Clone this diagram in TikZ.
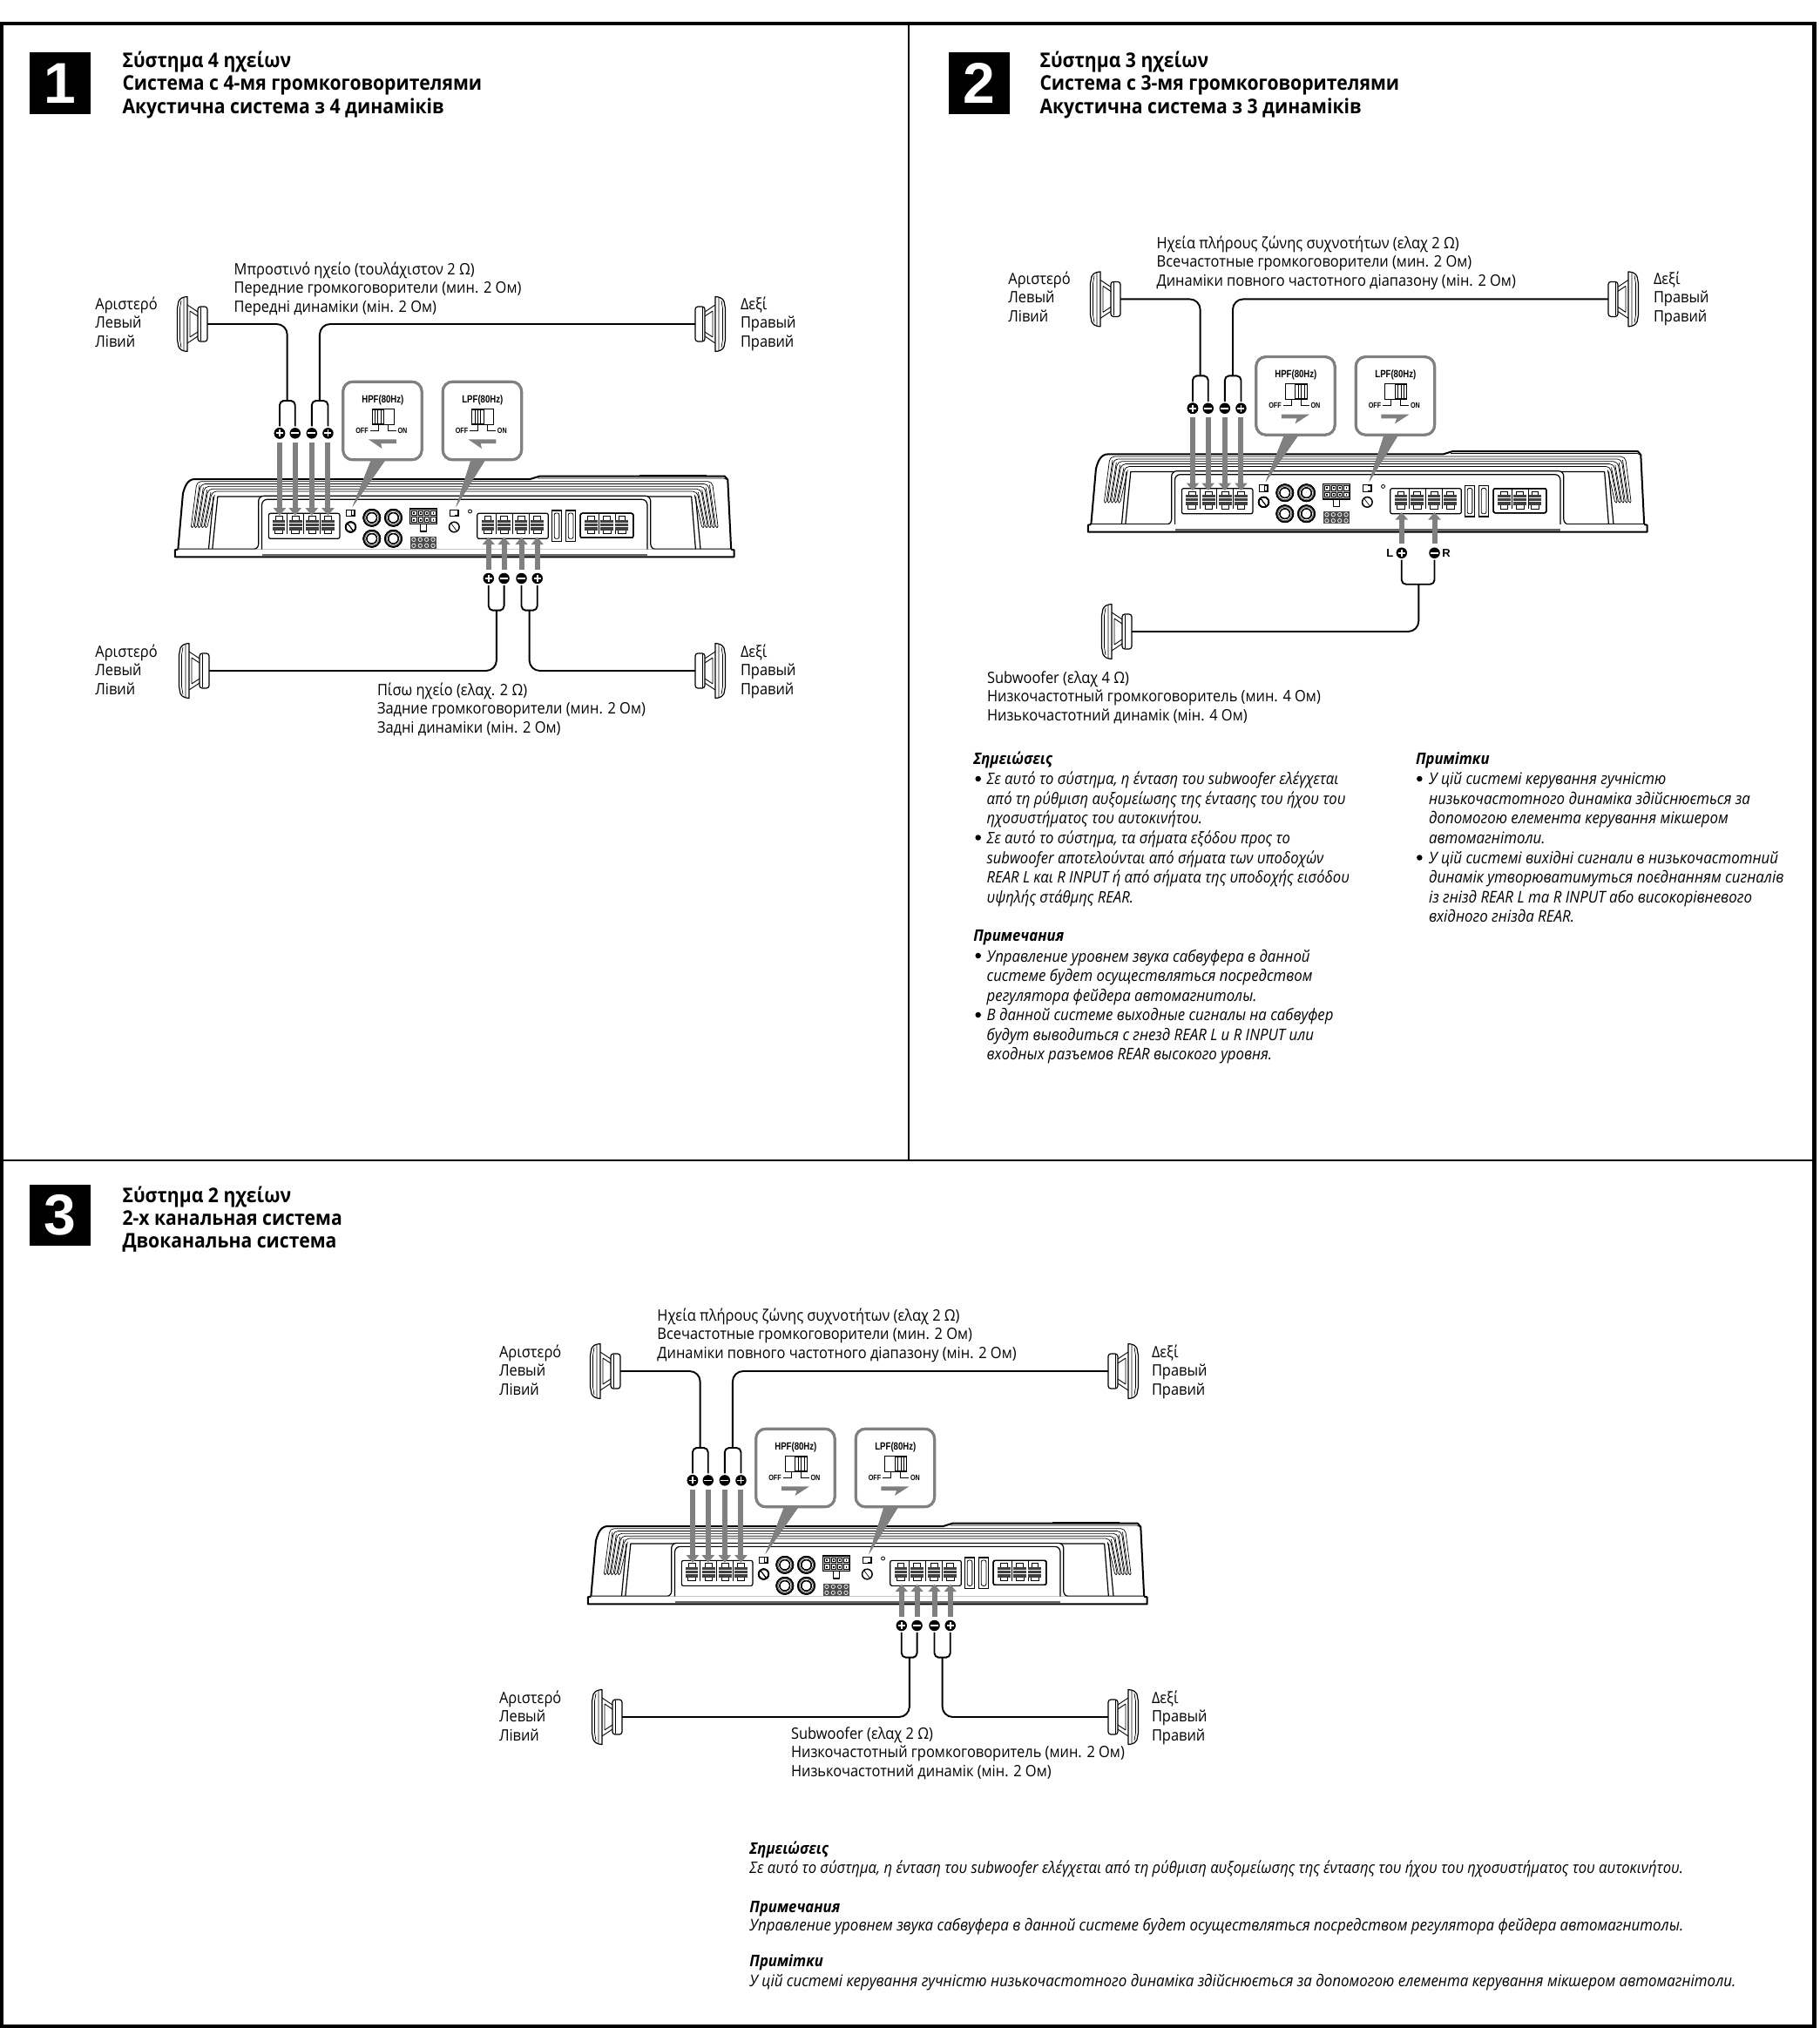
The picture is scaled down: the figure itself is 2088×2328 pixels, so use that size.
\documentclass[tikz,border=0pt]{standalone}
\usepackage{fontspec}
\usetikzlibrary{arrows.meta}
\setmainfont{Open Sans}[FakeStretch=0.912]
\newfontfamily\armf{Liberation Sans}
\newfontfamily\armn{Liberation Sans}[FakeStretch=0.8]
\definecolor{cgray}{HTML}{808080}
\newcount\nodeno
\tikzset{
  wire/.style={draw=black,line width=1.9pt,line join=round},
  amp/.style={draw=black,line width=1.2pt,line join=round},
  ampthick/.style={draw=black,line width=2pt,line join=round},
  fin/.style={draw=black,line width=.7pt},
  tarrow/.style={draw=cgray,line width=6pt,-{Triangle[width=14pt,length=8.5pt,fill=cgray]},shorten <=4pt},
  pol/.style={circle,fill=black,inner sep=0pt,minimum size=12.5pt},
  polp/.style={pol,path picture={\draw[white,line width=1.7pt]
     ([xshift=-4pt]path picture bounding box.center)--([xshift=4pt]path picture bounding box.center)
     ([yshift=-4pt]path picture bounding box.center)--([yshift=4pt]path picture bounding box.center);}},
  polm/.style={pol,path picture={\draw[white,line width=1.7pt]
     ([xshift=-4.5pt]path picture bounding box.center)--([xshift=4.5pt]path picture bounding box.center);}},
  lbl/.style={anchor=base west,inner sep=0pt,outer sep=0pt,font=\fontsize{18}{22}\selectfont},
  head/.style={lbl,font=\fontsize{23.2}{26}\selectfont\bfseries},
  noteg/.style={lbl,font=\fontsize{18.25}{22}\selectfont\itshape},
  noter/.style={lbl,font=\fontsize{18.4}{22}\selectfont\itshape},
  noteu/.style={lbl,font=\fontsize{18.55}{22}\selectfont\itshape},
  notehead/.style={lbl,font=\fontsize{18.3}{22}\selectfont\itshape\bfseries},
  bul/.style={circle,fill=black,inner sep=0pt,minimum size=6.5pt},
  numbox/.style={fill=black,text=white,inner sep=0pt,minimum width=70pt,minimum height=70.5pt,font=\armf\bfseries\fontsize{66}{66}\selectfont},
  filt/.style={inner sep=0pt,font=\armn\bfseries\fontsize{12}{14}\selectfont},
  sw/.style={inner sep=0pt,font=\armn\bfseries\fontsize{9}{10}\selectfont},
  lr/.style={inner sep=0pt,font=\armf\bfseries\fontsize{13}{15}\selectfont},
}
\newcommand\lineat[4]{\global\advance\nodeno by 1 \node[#3] (t\the\nodeno) at (#1,#2) {#4};}
\newcommand\threelines[6]{\lineat{#1}{#2}{lbl}{#3}\lineat{#1}{#2+21.5}{lbl}{#4}\lineat{#1}{#2+43}{lbl}{#5}}
\newcommand\bullets[2]{\global\advance\nodeno by 1 \node[bul] (t\the\nodeno) at (#1,#2) {};}
% speaker: name, x, y (wire end), direction
\newcommand\speaker[4]{%
  \coordinate (#1) at (#2,#3);
  \begin{scope}[shift={(#2,#3)},xscale=#4]
    \draw[fin,line width=.9pt] (-11,-14)--(-23,-22) (-11,14)--(-23,22) (-11,-9)--(-20,-15) (-11,9)--(-20,15) (-20,-15)--(-20,15);
    \draw[amp,fill=white,rounded corners=3pt] (-11,-20) rectangle (0,20);
    \draw[fin,line width=1pt] (-8,-19)--(-8,19);
    \draw[amp,fill=white] (-23,-31.5) .. controls (-28,-31) and (-31,-30) .. (-33,-26) -- (-34.5,-18) -- (-34.5,18) -- (-33,26) .. controls (-31,30) and (-28,31) .. (-23,31.5) -- cycle;
    \draw[fin] (-30,-27)--(-31.5,-18)--(-31.5,18)--(-30,27) (-27,-30)--(-27,30);
  \end{scope}}
% terminal icon
\newcommand\termi[1]{%
  \begin{scope}[shift={(#1,0)}]
    \draw[fin] (-9,518) rectangle (9,532);
    \draw[fin,fill=white] (-10,565) rectangle (10,578);
    \fill[black!75] (-17,530) rectangle (17,566);
    \draw[white,line width=.7pt] (-17,541)--(17,541) (-17,552)--(17,552);
  \end{scope}}
\newcommand\rca[2]{\draw[black,line width=1.4pt] (#1,#2) circle[radius=9.6pt]; \draw[black,line width=1pt] (#1,#2) circle[radius=5.8pt]; \draw[black!55,line width=.6pt] (#1,#2) circle[radius=8pt];}
\newcommand\knob[2]{\draw[black,line width=1.5pt] (#1,#2) circle[radius=5.8pt]; \draw[fin] (#1-8,#2-12)--(#1+6,#2+12);}
\newcommand\swbox[2]{\draw[amp,line width=1pt] (#1,#2) rectangle ++(24,23); \fill (#1+13,#2) rectangle ++(11,23); \fill[white] (#1+14.5,#2+4) rectangle ++(6,15);}
% callout: prefix, label, x offset, mode, tip X
\newcommand\callout[5]{%
  \begin{scope}[shift={(#3,0)}]
    \draw[draw=cgray,line width=3pt,fill=white,rounded corners=11pt] (470,55) rectangle (678,323);
    \fill[cgray] (545,322) -- (583,322) -- (#5,485) -- cycle;
    \node[filt] (#1-#2) at (575,118) {#2(80Hz)};
    \draw[fin,line width=1pt] (547,147) rectangle (605,202);
    \ifnum#4=0
      \draw[fin,line width=1pt] (547,150) rectangle (578,199);
      \foreach \k in {555,562,570} \draw[fin,line width=.8pt] (\k,150)--(\k,199);
      \fill[cgray] (611,253)--(537,253)--(573,285)--(570,267)--(611,267)--cycle;
    \else
      \draw[fin,line width=1pt] (574,150) rectangle (605,199);
      \foreach \k in {582,590,597} \draw[fin,line width=.8pt] (\k,150)--(\k,199);
      \fill[cgray] (537,253)--(611,253)--(573,285)--(578,267)--(537,267)--cycle;
    \fi
    \draw[black,line width=.9pt] (541,222)--(563,222)--(563,204) (588,204)--(588,222)--(611,222);
    \node[sw] (#1-#2-off) at (520,222) {OFF};
    \node[sw] (#1-#2-on) at (627,222) {ON};
  \end{scope}}
% amplifier: prefix, origin x, origin y, mode
\newcommand\ampbody[4]{%
\begin{scope}[shift={(#2,#3)},x=.43365pt,y=-.33333pt]
  % outline
  \draw[ampthick,fill=white] (33,632) -- (46,440) .. controls (52,410) and (60,390) .. (78,390) -- (965,390) -- (990,380) -- (1480,380) -- (1488,392) -- (1497,632) -- cycle;
  \draw[black,line width=1.8pt] (1255,379)--(1432,379);
  \draw[fin] (985,387)--(1478,387)--(1486,392);
  % fins
  \foreach \i in {0,...,4} {
    \draw[fin,rounded corners=5pt] ({68+9.2*\i},552) -- ({83+10*\i},{398+8.5*\i}) -- ({1447-10*\i},{398+8.5*\i}) -- ({1462-9.2*\i},552);
    \draw[fin] ({68+9.2*\i},552) -- ({70+9.2*\i},557) -- ({74+9.2*\i},552) -- ({90+10*\i},{410+8.5*\i});
    \draw[fin] ({1462-9.2*\i},552) -- ({1460-9.2*\i},557) -- ({1456-9.2*\i},552) -- ({1440-10*\i},{410+8.5*\i});
  }
  \draw[amp] (114,632)--(127,450) (124,632)--(138,450) (138,450)--(1392,450) (1403,632)--(1392,450) (1416,632)--(1403,450);
  % centre plate
  \draw[amp,fill=white,rounded corners=6pt] (33,632) -- (246,632) -- (246,448) -- (1284,448) -- (1284,632) -- (1497,632);
  \draw[amp,rounded corners=6pt] (255,655) -- (255,460) -- (1275,460) -- (1275,655);
  \draw[ampthick,fill=white] (33,632) -- (25,634) -- (25,658) -- (1505,658) -- (1505,634) -- (1497,632);
  \draw[line width=2.4pt,black!60] (255,651)--(1275,651);
  % first terminal block
  \draw[amp,rounded corners=2pt] (273,508) -- (273,595) -- (461,595) -- (461,508) -- cycle;
  \draw[fin] (322,510)--(322,578) (366,510)--(366,578) (409,510)--(409,578);
  \foreach \k in {300,344,388,430} \termi{\k}
  % switches, knobs, jacks
  \swbox{478}{495}
  \knob{490}{555}
  \rca{546}{523}\rca{603}{523}\rca{546}{595}\rca{603}{595}
  \draw[amp,fill=black!25] (646,492) rectangle (719,545);
  \foreach \a in {652,669,686,703} \foreach \b in {498,521} {\draw[black,line width=.9pt,fill=white] (\a,\b) rectangle ++(12,17); \fill[black] (\a+4,\b+6) rectangle ++(4,6);}
  \draw[amp,fill=white] (675,545) rectangle (690,570);
  \fill[black!70] (649,587) rectangle (717,630);
  \foreach \a in {657,674,691,708} \foreach \b in {598,619} {\draw[white,line width=.7pt] (\a,\b) circle[radius=2.2pt];}
  \swbox{752}{495}
  \knob{764}{555}
  \draw[black,line width=.8pt] (806,501) circle[radius=2pt];
  % second terminal block
  \draw[amp,rounded corners=2pt] (825,508) -- (825,595) -- (1013,595) -- (1013,508) -- cycle;
  \draw[fin] (875,510)--(875,578) (919,510)--(919,578) (962,510)--(962,578);
  \foreach \k in {853,896,941,984} \termi{\k}
  % slots
  \foreach \k in {1023,1060} {\draw[amp,fill=white] (\k,498) rectangle ++(25,107); \draw[amp,line width=.8pt,rounded corners=2pt] (\k+6,507) rectangle ++(13,88);}
  % third block
  \draw[amp,rounded corners=2pt] (1098,508) -- (1098,592) -- (1238,592) -- (1238,508) -- cycle;
  \draw[fin] (1147,510)--(1147,578) (1190,510)--(1190,578);
  \foreach \k in {1126,1168,1208} \termi{\k}
  % callouts
  \callout{#1}{HPF}{0}{#4}{495}
  \callout{#1}{LPF}{264}{#4}{505}
  % top connectors
  \node[polp] (#1-a) at (302,232) {};
  \node[polm] (#1-b) at (343,232) {};
  \node[polm] (#1-c) at (387,232) {};
  \node[polp] (#1-d) at (430,232) {};
  \coordinate (#1-ta) at (302,515); \coordinate (#1-tb) at (343,515); \coordinate (#1-tc) at (387,515); \coordinate (#1-td) at (430,515);
  \foreach \k in {a,b,c,d} \draw[tarrow] (#1-\k) -- (#1-t\k);
  \coordinate (#1-f1) at (322,120); \coordinate (#1-f2) at (408,120);
  \draw[wire,rounded corners=5pt,shorten <=1.5pt,shorten >=1.5pt] (#1-a.north) |- (#1-f1) -| (#1-b.north);
  \draw[wire,rounded corners=5pt,shorten <=1.5pt,shorten >=1.5pt] (#1-c.north) |- (#1-f2) -| (#1-d.north);
  % bottom terminals (named anchors)
  \coordinate (#1-be) at (855,590); \coordinate (#1-bf) at (896,590); \coordinate (#1-bg) at (942,590); \coordinate (#1-bh) at (984,590);
\end{scope}}
% four bottom polarity marks: prefix, origin x, y
\newcommand\bottomfour[3]{%
\begin{scope}[shift={(#2,#3)},x=.43365pt,y=-.33333pt]
  \node[polp] (#1-e) at (855,732) {};
  \node[polm] (#1-f) at (896,732) {};
  \node[polm] (#1-g) at (942,732) {};
  \node[polp] (#1-h) at (984,732) {};
  \foreach \k in {e,f,g,h} \draw[tarrow] (#1-\k) -- (#1-b\k);
  \coordinate (#1-f3) at (876,842); \coordinate (#1-f4) at (963,842);
  \draw[wire,rounded corners=5pt,shorten <=1.5pt,shorten >=1.5pt] (#1-e.south) |- (#1-f3) -| (#1-f.south);
  \draw[wire,rounded corners=5pt,shorten <=1.5pt,shorten >=1.5pt] (#1-g.south) |- (#1-f4) -| (#1-h.south);
\end{scope}}
\begin{document}
\begin{tikzpicture}[x=1pt,y=-1pt]
\useasboundingbox (0,0) rectangle (2088,2328);
\fill[white] (0,0) rectangle (2088,2328);
% frame
\draw[black,line width=4.5pt] (2,27) -- (2082.5,27) -- (2082.5,2326) -- (2,2326) -- cycle;
\draw[black,line width=2.6pt] (1043,27) -- (1043,1332);
\draw[black,line width=2.6pt] (2,1332) -- (2082.5,1332);
% number boxes
\node[numbox] (n1) at (68.5,95.3) {1};
\node[numbox] (n2) at (1124,95.3) {2};
\node[numbox] (n3) at (68.5,1395) {3};
% headings
\lineat{140.5}{78}{head}{Σύστημα 4 ηχείων}
\lineat{140.5}{104}{head}{Система с 4-мя громкоговорителями}
\lineat{140.5}{130.5}{head}{Акустична система з 4 динаміків}
\lineat{1193.5}{78}{head}{Σύστημα 3 ηχείων}
\lineat{1193.5}{104}{head}{Система с 3-мя громкоговорителями}
\lineat{1193.5}{130.5}{head}{Акустична система з 3 динаміків}
\lineat{140.5}{1380}{head}{Σύστημα 2 ηχείων}
\lineat{140.5}{1406}{head}{2-х канальная система}
\lineat{140.5}{1432.5}{head}{Двоканальна система}
% ---------- panel 1
\ampbody{p1}{190}{420}{0}
\bottomfour{p1}{190}{420}
\speaker{p1-sl}{238}{372}{1}
\speaker{p1-sr}{798}{372}{-1}
\speaker{p1-sbl}{240}{770}{1}
\speaker{p1-sbr}{798}{770}{-1}
\draw[wire,rounded corners=12pt] (p1-sl) -| (p1-f1);
\draw[wire,rounded corners=12pt] (p1-sr) -| (p1-f2);
\draw[wire,rounded corners=12pt] (p1-sbl) -| (p1-f3);
\draw[wire,rounded corners=12pt] (p1-sbr) -| (p1-f4);
\threelines{268.7}{315}{Μπροστινό ηχείο (τουλάχιστον 2 Ω)}{Передние громкоговорители (мин. 2 Ом)}{Передні динаміки (мін. 2 Ом)}{}
\threelines{109.4}{355}{Αριστερό}{Левый}{Лівий}{}
\threelines{850}{355}{Δεξί}{Правый}{Правий}{}
\threelines{109.4}{754}{Αριστερό}{Левый}{Лівий}{}
\threelines{850}{754}{Δεξί}{Правый}{Правий}{}
\threelines{433}{798}{Πίσω ηχείο (ελαχ. 2 Ω)}{Задние громкоговорители (мин. 2 Ом)}{Задні динаміки (мін. 2 Ом)}{}
% ---------- panel 2
\ampbody{p2}{1238}{391.4}{1}
\begin{scope}[shift={(1238,391.4)},x=.43365pt,y=-.33333pt]
  \node[polp] (p2-e) at (855,730) {};
  \node[polm] (p2-g) at (942,730) {};
  \draw[tarrow] (p2-e) -- (p2-be);
  \draw[tarrow] (p2-g) -- (p2-bg);
  \coordinate (p2-f3) at (900,838);
  \draw[wire,rounded corners=5pt,shorten <=1.5pt,shorten >=1.5pt] (p2-e.south) |- (p2-f3) -| (p2-g.south);
  \node[lr] (p2-L) at (824,730) {L};
  \node[lr] (p2-R) at (973,730) {R};
\end{scope}
\speaker{p2-sl}{1286}{343.4}{1}
\speaker{p2-sr}{1846}{343.4}{-1}
\speaker{p2-sb}{1299}{725}{1}
\draw[wire,rounded corners=12pt] (p2-sl) -| (p2-f1);
\draw[wire,rounded corners=12pt] (p2-sr) -| (p2-f2);
\draw[wire,rounded corners=12pt] (p2-sb) -| (p2-f3);
\threelines{1327.6}{285}{Ηχεία πλήρους ζώνης συχνοτήτων (ελαχ 2 Ω)}{Всечастотные громкоговорители (мин. 2 Ом)}{Динаміки повного частотного діапазону (мін. 2 Ом)}{}
\threelines{1157.4}{326.4}{Αριστερό}{Левый}{Лівий}{}
\threelines{1898}{326.4}{Δεξί}{Правый}{Правий}{}
\threelines{1133}{784}{Subwoofer (ελαχ 4 Ω)}{Низкочастотный громкоговоритель (мин. 4 Ом)}{Низькочастотний динамік (мін. 4 Ом)}{}
% notes panel 2
\lineat{1117.3}{877}{notehead}{Σημειώσεις}
\bullets{1122.7}{894}
\lineat{1132.7}{900.7}{noteg}{Σε αυτό το σύστημα, η ένταση του subwoofer ελέγχεται}
\lineat{1132.7}{923.3}{noteg}{από τη ρύθμιση αυξομείωσης της έντασης του ήχου του}
\lineat{1132.7}{945.7}{noteg}{ηχοσυστήματος του αυτοκινήτου.}
\bullets{1122.7}{961.5}
\lineat{1132.7}{968.3}{noteg}{Σε αυτό το σύστημα, τα σήματα εξόδου προς το}
\lineat{1132.7}{991}{noteg}{subwoofer αποτελούνται από σήματα των υποδοχών}
\lineat{1132.7}{1013.3}{noteg}{REAR L και R INPUT ή από σήματα της υποδοχής εισόδου}
\lineat{1132.7}{1036}{noteg}{υψηλής στάθμης REAR.}
\lineat{1117.3}{1080.7}{notehead}{Примечания}
\bullets{1122.7}{1097}
\lineat{1132.7}{1104}{noter}{Управление уровнем звука сабвуфера в данной}
\lineat{1132.7}{1126.7}{noter}{системе будет осуществляться посредством}
\lineat{1132.7}{1149.3}{noter}{регулятора фейдера автомагнитолы.}
\bullets{1122.7}{1165}
\lineat{1132.7}{1171.7}{noter}{В данной системе выходные сигналы на сабвуфер}
\lineat{1132.7}{1194.3}{noter}{будут выводиться с гнезд REAR L и R INPUT или}
\lineat{1132.7}{1216.7}{noter}{входных разъемов REAR высокого уровня.}
\lineat{1625}{877}{notehead}{Примітки}
\bullets{1629.3}{894}
\lineat{1640}{900.7}{noteu}{У цій системі керування гучністю}
\lineat{1640}{923.3}{noteu}{низькочастотного динаміка здійснюється за}
\lineat{1640}{945.7}{noteu}{допомогою елемента керування мікшером}
\lineat{1640}{968}{noteu}{автомагнітоли.}
\bullets{1629.3}{984.5}
\lineat{1640}{991}{noteu}{У цій системі вихідні сигнали в низькочастотний}
\lineat{1640}{1013.7}{noteu}{динамік утворюватимуться поєднанням сигналів}
\lineat{1640}{1036}{noteu}{із гнізд REAR L та R INPUT або високорівневого}
\lineat{1640}{1058.7}{noteu}{вхідного гнізда REAR.}
% ---------- panel 3
\ampbody{p3}{664}{1622}{1}
\bottomfour{p3}{664}{1622}
\speaker{p3-sl}{712}{1574}{1}
\speaker{p3-sr}{1272}{1574}{-1}
\speaker{p3-sbl}{714}{1971}{1}
\speaker{p3-sbr}{1272}{1971}{-1}
\draw[wire,rounded corners=12pt] (p3-sl) -| (p3-f1);
\draw[wire,rounded corners=12pt] (p3-sr) -| (p3-f2);
\draw[wire,rounded corners=12pt] (p3-sbl) -| (p3-f3);
\draw[wire,rounded corners=12pt] (p3-sbr) -| (p3-f4);
\threelines{754.4}{1516}{Ηχεία πλήρους ζώνης συχνοτήτων (ελαχ 2 Ω)}{Всечастотные громкоговорители (мин. 2 Ом)}{Динаміки повного частотного діапазону (мін. 2 Ом)}{}
\threelines{573}{1558}{Αριστερό}{Левый}{Лівий}{}
\threelines{1322}{1558}{Δεξί}{Правый}{Правий}{}
\threelines{573}{1955}{Αριστερό}{Левый}{Лівий}{}
\threelines{1322}{1955}{Δεξί}{Правый}{Правий}{}
\threelines{908}{1996}{Subwoofer (ελαχ 2 Ω)}{Низкочастотный громкоговоритель (мин. 2 Ом)}{Низькочастотний динамік (мін. 2 Ом)}{}
% notes panel 3
\lineat{860.4}{2128}{notehead}{Σημειώσεις}
\lineat{860.4}{2150}{noteg}{Σε αυτό το σύστημα, η ένταση του subwoofer ελέγχεται από τη ρύθμιση αυξομείωσης της έντασης του ήχου του ηχοσυστήματος του αυτοκινήτου.}
\lineat{860.4}{2195}{notehead}{Примечания}
\lineat{860.4}{2216.7}{noteu}{Управление уровнем звука сабвуфера в данной системе будет осуществляться посредством регулятора фейдера автомагнитолы.}
\lineat{860.4}{2257.7}{notehead}{Примітки}
\lineat{860.4}{2280}{noteu}{У цій системі керування гучністю низькочастотного динаміка здійснюється за допомогою елемента керування мікшером автомагнітоли.}
\end{tikzpicture}
\end{document}
